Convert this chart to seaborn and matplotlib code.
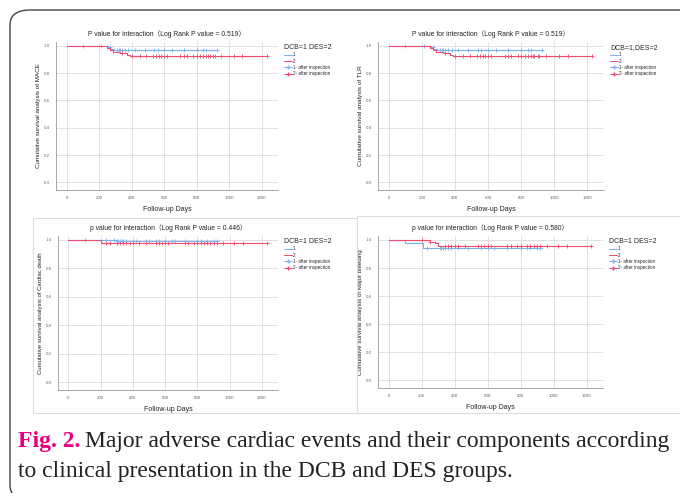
import numpy as np
import pandas as pd
import matplotlib.pyplot as plt
import seaborn as sns
from matplotlib.lines import Line2D
from matplotlib.patches import FancyBboxPatch, Rectangle

sns.set_style("whitegrid")
plt.rcParams['font.family'] = ['Liberation Sans', 'Noto Sans CJK SC', 'DejaVu Sans']

BLUE = "#7ab0ec"
RED = "#f04a6e"

# KM step curves: time of step, survival after step (last entry = end of follow-up)
mace_dcb_t = [0, 255, 270, 290, 300, 930]
mace_dcb_s = [1.0, 0.99, 0.98, 0.973, 0.966, 0.966]
mace_des_t = [0, 250, 265, 285, 330, 370, 390, 1230]
mace_des_s = [1.0, 0.985, 0.97, 0.955, 0.945, 0.935, 0.925, 0.925]
mace_dcb_cens = [100, 210, 265, 310, 320, 330, 340, 360, 380, 420, 480, 540, 560, 600, 650, 720, 800, 840, 860, 925]
mace_des_cens = [340, 400, 450, 490, 530, 550, 570, 580, 600, 620, 700, 720, 740, 780, 800, 820, 840,
                 860, 870, 880, 900, 910, 950, 1030, 1080, 1230]

death_dcb_t = [0, 300, 930]
death_dcb_s = [1.0, 0.996, 0.996]
death_des_t = [0, 200, 1230]
death_des_s = [1.0, 0.98, 0.98]
death_dcb_cens = [100, 230, 280, 300, 310, 320, 330, 340, 360, 400, 420, 480, 500, 540, 560, 600,
                  640, 660, 720, 800, 820, 860, 900, 920]
death_des_cens = [230, 260, 300, 320, 340, 360, 380, 400, 440, 480, 540, 560, 580, 600, 620, 720, 740,
                  780, 800, 820, 840, 860, 880, 900, 920, 960, 1030, 1080, 1230]

bleed_dcb_t = [0, 100, 210, 930]
bleed_dcb_s = [1.0, 0.975, 0.945, 0.945]
bleed_des_t = [0, 250, 280, 300, 1230]
bleed_des_s = [1.0, 0.985, 0.975, 0.96, 0.96]
bleed_dcb_cens = [230, 310, 320, 330, 340, 360, 380, 420, 480, 560, 600, 640, 720, 800, 840, 860, 900, 920]
bleed_des_cens = [200, 250, 340, 360, 380, 400, 420, 460, 540, 560, 580, 600, 620, 720, 740, 780, 800,
                  840, 860, 880, 900, 920, 960, 1030, 1080, 1230]

titles = ["P value for interaction（Log Rank P value = 0.519）",
          "P value for interaction（Log Rank P value = 0.519）",
          "p value for interaction（Log Rank P value = 0.446）",
          "p value for interaction（Log Rank P value = 0.580）"]
ylabels = ["Cumulative survival analysis of MACE",
           "Cumulative survival analysis of TLR",
           "Cumulative survival analysis of Cardiac death",
           "Cumulative survival analysis of Major bleeding"]
legend_titles = ["DCB=1 DES=2", "DCB=1,DES=2", "DCB=1 DES=2", "DCB=1 DES=2"]
yticks = [0.0, 0.2, 0.4, 0.6, 0.8, 1.0]
xticks = [0, 200, 400, 600, 800, 1000, 1200]

panels = [
    (mace_dcb_t, mace_dcb_s, mace_dcb_cens, mace_des_t, mace_des_s, mace_des_cens),
    (mace_dcb_t, mace_dcb_s, mace_dcb_cens, mace_des_t, mace_des_s, mace_des_cens),
    (death_dcb_t, death_dcb_s, death_dcb_cens, death_des_t, death_des_s, death_des_cens),
    (bleed_dcb_t, bleed_dcb_s, bleed_dcb_cens, bleed_des_t, bleed_des_s, bleed_des_cens),
]
ylabel_sizes = [4.5, 4.6, 4.3, 4.4]

W, H = 680, 493
fig = plt.figure(figsize=(W / 100, H / 100), dpi=100)
fig.patch.set_facecolor("white")

def px(l, t, r, b):
    return [l / W, 1 - b / H, (r - l) / W, (b - t) / H]

# panel frames
fig.add_artist(FancyBboxPatch((10 / W, 1 - 500 / H), 700 / W, 490 / H,
                              boxstyle="round,pad=0,rounding_size=0.03", transform=fig.transFigure,
                              fill=False, edgecolor="#444444", lw=1.0, clip_on=False))
fig.add_artist(Rectangle((33 / W, 1 - 413 / H), 324 / W, 195 / H, transform=fig.transFigure,
                         fill=False, edgecolor="#dddddd", lw=0.8))
fig.add_artist(Rectangle((357 / W, 1 - 413 / H), 340 / W, 197 / H, transform=fig.transFigure,
                         fill=False, edgecolor="#dddddd", lw=0.8, clip_on=False))

boxes = [px(56, 42, 278, 190), px(378, 42, 604, 190), px(58, 236, 278, 390), px(378, 236, 603, 388)]

def step_value(t, s, x):
    idx = np.searchsorted(np.array(t), np.array(x), side="right") - 1
    return np.array(s)[idx]

for i, (box, pdat) in enumerate(zip(boxes, panels)):
    ax = fig.add_axes(box)
    for t, s, cens, col in [(pdat[0], pdat[1], pdat[2], BLUE), (pdat[3], pdat[4], pdat[5], RED)]:
        df = pd.DataFrame({"t": t, "s": s})
        sns.lineplot(data=df, x="t", y="s", drawstyle="steps-post", color=col, lw=0.8, ax=ax)
        cdf = pd.DataFrame({"t": cens, "s": step_value(t, s, cens)})
        sns.scatterplot(data=cdf, x="t", y="s", marker="+", color=col, s=10, linewidth=0.6, ax=ax)
    ax.set_xlim(-65, 1300)
    ax.set_ylim(-0.055, 1.028)
    ax.set_xticks(xticks)
    ax.set_yticks(yticks)
    ax.set_xticklabels([str(v) for v in xticks])
    ax.set_yticklabels([f"{v:.1f}" for v in yticks])
    ax.tick_params(labelsize=3.2, colors="#666666", length=1.5, width=0.4, pad=3)
    ax.grid(True, color="#dcdcdc", lw=0.6)
    for side in ["top", "right"]:
        ax.spines[side].set_visible(False)
    for side in ["left", "bottom"]:
        ax.spines[side].set_color("#999999")
        ax.spines[side].set_linewidth(0.6)
    ax.set_title(titles[i], fontsize=4.9, pad=4, color="#222222")
    ax.set_xlabel("Follow-up Days", fontsize=5.0, labelpad=4, color="#222222")
    ax.set_ylabel(ylabels[i], fontsize=ylabel_sizes[i], labelpad=2, color="#222222")
    handles = [Line2D([], [], color=BLUE, lw=0.7, drawstyle="steps-post"),
               Line2D([], [], color=RED, lw=0.7, drawstyle="steps-post"),
               Line2D([], [], color=BLUE, lw=0.7, marker="+", markersize=3),
               Line2D([], [], color=RED, lw=0.7, marker="+", markersize=3)]
    leg = ax.legend(handles, ["1", "2", "1- after inspection", "2- after inspection"],
                    title=legend_titles[i], loc="upper left", bbox_to_anchor=(1.02, 1.0),
                    frameon=False, fontsize=3.3, title_fontsize=5.0, handlelength=1.6,
                    handletextpad=0.3, labelspacing=0.3, borderaxespad=0)
    leg._legend_box.align = "left"

# caption
fs = 17.0
t1 = fig.text(18 / W, 1 - 442 / H, "Fig. 2.", color="#e6007e", fontweight="bold", fontsize=fs,
              family="Liberation Serif", va="center")
fig.canvas.draw()
bb = t1.get_window_extent()
fig.text((bb.x1 + 5) / W, 1 - 442 / H, "Major adverse cardiac events and their components according",
         color="#222222", fontsize=fs, family="Liberation Serif", va="center")
fig.text(18 / W, 1 - 471 / H, "to clinical presentation in the DCB and DES groups.",
         color="#222222", fontsize=fs, family="Liberation Serif", va="center")

fig.savefig("out.png", dpi=100)
